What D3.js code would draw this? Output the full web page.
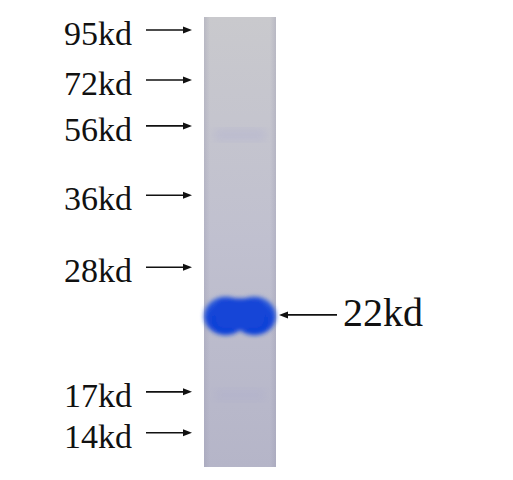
<!DOCTYPE html>
<html>
<head>
<meta charset="utf-8">
<script src="https://cdn.jsdelivr.net/npm/d3@7"></script>
<style>
  body { margin: 0; background: #fff; }
  svg text { font-family: "Liberation Serif", "Times New Roman", serif; fill: #111; }
</style>
</head>
<body>
<script>
// marker ladder (kDa) and how far each ran down the lane (fraction of lane length)
const markerLabels = ["95kd", "72kd", "56kd", "36kd", "28kd", "17kd", "14kd"];
const markerKd = [95, 72, 56, 36, 28, 17, 14];
const markerMigration = [0.029, 0.140, 0.242, 0.396, 0.556, 0.833, 0.924];

// the sample band
const bandLabel = "22kd";
const bandMigration = 0.662;
const bandThickness = 0.086;   // fraction of lane length

// very faint bands seen in the lane
const faintMigration = [0.262, 0.840];
const faintOpacity = [0.09, 0.05];

const w = 513, h = 480;
const lane = {x0: 204, x1: 276, y0: 17, y1: 467};

const svg = d3.select("body").append("svg")
  .attr("width", w).attr("height", h);

const yScale = d3.scaleLinear().domain([0, 1]).range([lane.y0, lane.y1]);
const xLane = d3.scaleLinear().domain([0, 1]).range([lane.x0, lane.x1]);

const defs = svg.append("defs");
// lane background, lighter gray at top, more lavender lower down
const lg = defs.append("linearGradient").attr("id", "laneGrad")
  .attr("x1", 0).attr("y1", 0).attr("x2", 0).attr("y2", 1);
lg.append("stop").attr("offset", "0%").attr("stop-color", "#c9c9cd");
lg.append("stop").attr("offset", "50%").attr("stop-color", "#c0c0cf");
lg.append("stop").attr("offset", "100%").attr("stop-color", "#b5b5c8");
const eg = defs.append("linearGradient").attr("id", "edgeGrad")
  .attr("x1", 0).attr("y1", 0).attr("x2", 1).attr("y2", 0);
eg.append("stop").attr("offset", "0%").attr("stop-color", "#9a9ab0").attr("stop-opacity", 0.35);
eg.append("stop").attr("offset", "8%").attr("stop-color", "#9a9ab0").attr("stop-opacity", 0);
eg.append("stop").attr("offset", "92%").attr("stop-color", "#9a9ab0").attr("stop-opacity", 0);
eg.append("stop").attr("offset", "100%").attr("stop-color", "#9a9ab0").attr("stop-opacity", 0.35);

defs.append("filter").attr("id", "blur")
  .attr("x", "-20%").attr("y", "-40%").attr("width", "140%").attr("height", "180%")
  .append("feGaussianBlur").attr("stdDeviation", 2.2);
defs.append("filter").attr("id", "blurWide")
  .append("feGaussianBlur").attr("stdDeviation", 4);

const bg = defs.append("radialGradient").attr("id", "bandGrad")
  .attr("cx", "50%").attr("cy", "62%").attr("r", "60%");
bg.append("stop").attr("offset", "0%").attr("stop-color", "#0a3bd5");
bg.append("stop").attr("offset", "70%").attr("stop-color", "#1446d8");
bg.append("stop").attr("offset", "100%").attr("stop-color", "#3c67da");

// lane
svg.append("rect")
  .attr("x", lane.x0).attr("y", lane.y0)
  .attr("width", lane.x1 - lane.x0).attr("height", lane.y1 - lane.y0)
  .attr("fill", "url(#laneGrad)");
svg.append("rect")
  .attr("x", lane.x0).attr("y", lane.y0)
  .attr("width", lane.x1 - lane.x0).attr("height", lane.y1 - lane.y0)
  .attr("fill", "url(#edgeGrad)");

// faint bands
svg.selectAll("rect.faint")
  .data(faintMigration)
  .enter().append("rect")
  .attr("class", "faint")
  .attr("x", xLane(0.15)).attr("y", d => yScale(d) - 6)
  .attr("width", xLane(0.85) - xLane(0.15)).attr("height", 12)
  .attr("fill", "#6a6ad8")
  .attr("opacity", (d, i) => faintOpacity[i])
  .attr("filter", "url(#blurWide)");

// main band: two merged lobes with a slight notch between them
const bandY = yScale(bandMigration);
const bandH = yScale(bandThickness) - yScale(0);
const band = svg.append("g").attr("filter", "url(#blur)");
band.selectAll("ellipse")
  .data([0.3, 0.7])
  .enter().append("ellipse")
  .attr("cx", d => xLane(d))
  .attr("cy", bandY + 1)
  .attr("rx", (xLane(1) - xLane(0)) * 0.3)
  .attr("ry", bandH / 2)
  .attr("fill", "url(#bandGrad)");
band.append("rect")
  .attr("x", xLane(0.16)).attr("y", bandY - bandH / 2 + 3)
  .attr("width", xLane(0.84) - xLane(0.16)).attr("height", bandH - 9)
  .attr("rx", 8)
  .attr("fill", "#1244d7");

// arrows
function arrow(x1, x2, y) {
  const dir = Math.sign(x2 - x1);
  svg.append("line")
    .attr("x1", x1).attr("x2", x2 - dir * 6).attr("y1", y).attr("y2", y)
    .attr("stroke", "#111").attr("stroke-width", 1.6);
  svg.append("path")
    .attr("d", `M${x2},${y} L${x2 - dir * 9},${y - 3.5} L${x2 - dir * 9},${y + 3.5} Z`)
    .attr("fill", "#111");
}

markerKd.forEach((kd, i) => {
  const y = yScale(markerMigration[i]);
  svg.append("text")
    .attr("x", 64).attr("y", y + 15)
    .attr("font-size", 34)
    .text(markerLabels[i]);
  arrow(146, 192, y);
});

arrow(337, 279, bandY);
svg.append("text")
  .attr("x", 343).attr("y", bandY + 11)
  .attr("font-size", 40)
  .text(bandLabel);
</script>
</body>
</html>
